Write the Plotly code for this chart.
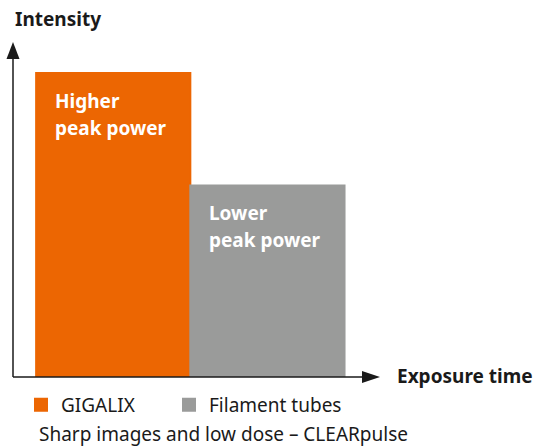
import plotly.graph_objects as go

categories = ["GIGALIX", "Filament tubes"]
intensity = [100, 63]
colors = ["#EC6602", "#9A9B9A"]
bar_labels = [["Higher", "peak power"], ["Lower", "peak power"]]
y_axis_title = "Intensity"
x_axis_title = "Exposure time"
caption = "Sharp images and low dose – CLEARpulse"

W, H = 534, 446
L, R, T, B = 13, 154, 42, 69
PW, PH = W - L - R, H - T - B
FONT = "Noto Sans"
FS = 19

def px(x):
    return (x - L) / PW

def py(y):
    return (H - B - y) / PH

legend_ids = ["legend", "legend2"]
legend_left = [21, 169]

fig = go.Figure()
for i, (cat, val, col) in enumerate(zip(categories, intensity, colors)):
    fig.add_trace(go.Bar(
        x=[i], y=[val], name=cat, width=1,
        marker=dict(color=col, line=dict(color=col, width=2)),
        hoverinfo="skip", legend=legend_ids[i],
    ))
    for j, line in enumerate(bar_labels[i]):
        fig.add_annotation(
            x=i - 0.5, y=val, xref="x", yref="y",
            xshift=17, yshift=-28 - 27 * j,
            text=line, showarrow=False, xanchor="left", yanchor="middle",
            font=dict(family=FONT, size=FS, color="white", weight="bold"),
        )

# axes with arrows
shapes = [
    dict(type="line", xref="paper", yref="paper", x0=0, x1=0, y0=0, y1=0.97,
         line=dict(color="#1a1a1a", width=1.5)),
    dict(type="line", xref="paper", yref="paper", x0=0, x1=0.97, y0=0, y1=0,
         line=dict(color="#1a1a1a", width=1.5)),
    dict(type="path", xref="paper", yref="paper", xsizemode="pixel", ysizemode="pixel",
         xanchor=0, yanchor=1, path="M-6.5,-17 L0,0 L6.5,-17 Z",
         fillcolor="#1a1a1a", line=dict(width=0)),
    dict(type="path", xref="paper", yref="paper", xsizemode="pixel", ysizemode="pixel",
         xanchor=1, yanchor=0, path="M-18,-6 L0,0 L-18,6 Z",
         fillcolor="#1a1a1a", line=dict(width=0)),
]

fig.add_annotation(x=px(13), y=py(19), xref="paper", yref="paper", text=y_axis_title,
                   showarrow=False, xanchor="left", yanchor="middle",
                   font=dict(family=FONT, size=FS, color="#1a1a1a", weight="bold"))
fig.add_annotation(x=px(395), y=py(376), xref="paper", yref="paper", text=x_axis_title,
                   showarrow=False, xanchor="left", yanchor="middle",
                   font=dict(family=FONT, size=FS, color="#1a1a1a", weight="bold"))
fig.add_annotation(x=px(37), y=py(434), xref="paper", yref="paper", text=caption,
                   showarrow=False, xanchor="left", yanchor="middle",
                   font=dict(family=FONT, size=FS, color="#1a1a1a"))

legend_style = dict(orientation="h", xanchor="left", yanchor="middle",
                    font=dict(family=FONT, size=FS, color="#1a1a1a"),
                    bgcolor="rgba(0,0,0,0)", borderwidth=0,
                    itemclick=False, itemdoubleclick=False)

fig.update_layout(
    width=W, height=H,
    margin=dict(l=L, r=R, t=T, b=B, autoexpand=False),
    paper_bgcolor="white", plot_bgcolor="white",
    barmode="overlay",
    shapes=shapes,
    showlegend=True,
    legend=dict(x=px(legend_left[0]), y=py(405), **legend_style),
    legend2=dict(x=px(legend_left[1]), y=py(405), **legend_style),
    xaxis=dict(range=[-0.65, 1.73], visible=False, fixedrange=True),
    yaxis=dict(range=[0, 100 * PH / 304], visible=False, fixedrange=True),
)

fig.write_html("out.html", config={"displayModeBar": False},
               post_script="document.body.style.margin='0';")
